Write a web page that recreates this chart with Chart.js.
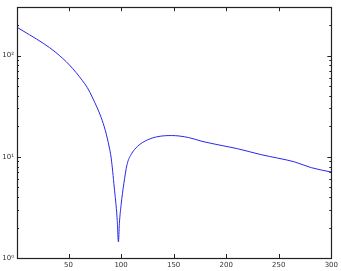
<!doctype html>
<html>
<head>
    <script src="https://cdn.jsdelivr.net/npm/chart.js"></script>
    <style>
        body { margin: 0; background: #fff; }
        #wrap { width: 341px; height: 271px; }
    </style>
</head>
<body>
    <div id="wrap"><canvas id="grafico"></canvas></div>
    <script>
        // valores
        var xValores = [1, 13, 26, 38, 51, 63, 68, 73, 81, 85, 88.7, 90.6, 93.5, 96.2, 97.5, 98.4, 100.1, 102.6, 105.7, 109.5, 115.8, 125.3, 135, 148, 164, 177, 196, 211, 233, 249, 265, 281, 300];
        var yValores = [190, 160, 132, 107, 80.4, 56.9, 48, 38, 24.5, 18.2, 12.5, 9.7, 5.0, 2.5, 1.44, 2.2, 3.4, 5.4, 8.4, 10.5, 12.7, 14.7, 15.8, 16.2, 15.5, 14.2, 12.9, 12.0, 10.5, 9.7, 8.9, 7.8, 7.06];
        var xTicks = [50, 100, 150, 200, 250, 300];
        var yTicks = [1, 10, 100];
        var yRotulos = { 1: '10\u2070', 10: '10\u00b9', 100: '10\u00b2' };

        var pontos = xValores.map((x, i) => ({ x: x, y: yValores[i] }));

        // moldura e marcas de escala para dentro (estilo matplotlib)
        var moldura = {
            id: 'moldura',
            afterDraw(chart) {
                var ctx = chart.ctx;
                var a = chart.chartArea;
                var sx = chart.scales.x, sy = chart.scales.y;
                ctx.save();
                ctx.strokeStyle = '#222';
                ctx.lineWidth = 1;
                ctx.beginPath();
                xTicks.forEach(v => {
                    var p = Math.round(sx.getPixelForValue(v)) + 0.5;
                    ctx.moveTo(p, a.bottom); ctx.lineTo(p, a.bottom - 4);
                    ctx.moveTo(p, a.top); ctx.lineTo(p, a.top + 4);
                });
                [1, 10, 100].forEach(d => {
                    for (var k = 1; k <= 9; k++) {
                        var v = d * k;
                        if (v < sy.min || v > sy.max) continue;
                        var p = Math.round(sy.getPixelForValue(v)) + 0.5;
                        var len = k == 1 ? 4 : 2;
                        ctx.moveTo(a.left, p); ctx.lineTo(a.left + len, p);
                        ctx.moveTo(a.right, p); ctx.lineTo(a.right - len, p);
                    }
                });
                ctx.stroke();
                ctx.lineWidth = 1.2;
                ctx.strokeRect(Math.round(a.left) + 0.5, Math.round(a.top) + 0.5, Math.round(a.right - a.left), Math.round(a.bottom - a.top));
                ctx.restore();
            }
        };

        var grafico = new Chart(document.getElementById('grafico').getContext('2d'), {
            type: 'line',
            data: {
                datasets: [{
                    data: pontos,
                    borderColor: 'rgb(40,40,235)',
                    borderWidth: 1,
                    pointRadius: 0,
                    cubicInterpolationMode: 'monotone',
                    fill: false
                }]
            },
            options: {
                responsive: true,
                maintainAspectRatio: false,
                animation: false,
                layout: { padding: { left: 0, top: 5, right: 7, bottom: 0 } },
                plugins: {
                    legend: { display: false },
                    tooltip: { enabled: false }
                },
                scales: {
                    x: {
                        type: 'linear',
                        min: 1,
                        max: 300,
                        grid: { display: false, drawTicks: false },
                        border: { display: false },
                        afterBuildTicks: s => { s.ticks = xTicks.map(v => ({ value: v })); },
                        afterFit: s => { s.height = 13; },
                        ticks: {
                            includeBounds: false,
                            maxRotation: 0,
                            padding: 3,
                            color: '#333',
                            font: { family: 'DejaVu Sans', size: 7 }
                        }
                    },
                    y: {
                        type: 'logarithmic',
                        min: 1,
                        max: 300,
                        grid: { display: false, drawTicks: false },
                        border: { display: false },
                        afterBuildTicks: s => { s.ticks = yTicks.map(v => ({ value: v })); },
                        afterFit: s => { s.width = 17; },
                        ticks: {
                            padding: 3,
                            color: '#333',
                            font: { family: 'DejaVu Sans', size: 7 },
                            callback: v => yRotulos[v] || ''
                        }
                    }
                }
            },
            plugins: [moldura]
        });
    </script>
</body>
</html>
